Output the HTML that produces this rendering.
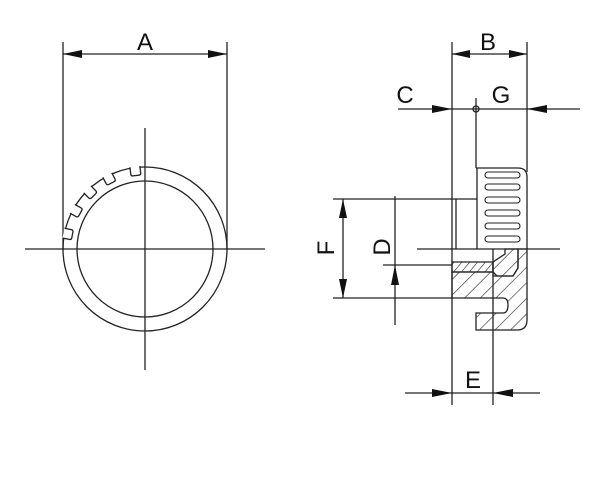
<!DOCTYPE html>
<html><head><meta charset="utf-8"><style>
html,body{margin:0;padding:0;background:#fff;}
svg{display:block;}
text{font-family:"Liberation Sans",sans-serif;font-size:24px;fill:#111;}
</style></head><body>
<svg width="600" height="500" viewBox="0 0 600 500" xmlns="http://www.w3.org/2000/svg">
<defs>
<pattern id="h" patternUnits="userSpaceOnUse" width="11" height="11" patternTransform="rotate(45)">
<line x1="0" y1="0" x2="0" y2="11" stroke="#222" stroke-width="1.2"/>
</pattern>
<pattern id="h2" patternUnits="userSpaceOnUse" width="6" height="6" patternTransform="rotate(40)">
<line x1="0" y1="0" x2="0" y2="6" stroke="#222" stroke-width="1.2"/>
</pattern>
</defs>
<g stroke="#222" stroke-width="1.3" fill="none">
<line x1="63" y1="42" x2="63" y2="250"/>
<line x1="227" y1="42" x2="227" y2="250"/>
<line x1="63" y1="54" x2="227" y2="54"/>
<line x1="25" y1="249" x2="265" y2="249"/>
<line x1="145" y1="128" x2="145" y2="370"/>
<circle cx="145" cy="249" r="82"/>
<circle cx="145" cy="249" r="68"/>
<line x1="452" y1="42" x2="452" y2="405"/>
<line x1="527" y1="42" x2="527" y2="172"/>
<line x1="452" y1="54" x2="527" y2="54"/>
<line x1="398" y1="109" x2="580" y2="109"/>
<circle cx="476" cy="109" r="3"/>
<line x1="476" y1="98" x2="476" y2="168"/>
<path d="M476 168 H518 Q527 168 527 177 V249"/>
<line x1="477" y1="168" x2="477" y2="249"/>
<line x1="417" y1="249" x2="560" y2="249"/>
<line x1="333" y1="199" x2="477" y2="199"/>
<line x1="333" y1="298" x2="452" y2="298"/>
<line x1="343" y1="199" x2="343" y2="298"/>
<line x1="395" y1="196" x2="395" y2="325"/>
<line x1="383" y1="265" x2="452" y2="265"/>
<line x1="456" y1="199" x2="456" y2="249"/>
<line x1="493" y1="249" x2="493" y2="405"/>
<line x1="405" y1="393" x2="540" y2="393"/>
<g stroke-width="1.1">
<rect x="485" y="172" width="35" height="6" rx="3"/>
<rect x="485" y="184" width="35" height="6" rx="3"/>
<rect x="485" y="197" width="35" height="6" rx="3"/>
<rect x="485" y="210" width="35" height="6" rx="3"/>
<rect x="485" y="223" width="35" height="6" rx="3"/>
<rect x="485" y="236" width="35" height="6" rx="3"/>
</g>
<path d="M452 272 H493 V276 H513 L518 268 V249 H527 V320 Q527 330 517 330 H476 V313 H503 Q508 313 508 305 Q508 298 503 298 H476 V298 H452 Z" fill="url(#h)"/>
<path d="M452 262 H493 V272 H452 Z" fill="url(#h2)"/>
<path d="M497 276 L493 272 V262 L505 254 V249 H518 V268 L513 276 Z" fill="url(#h)"/>
</g>
<g stroke="#222" stroke-width="1.3" fill="#fff">
<g transform="rotate(-7 145 249)"><rect x="140" y="166" width="10" height="8" stroke="none"/><path d="M140 166 v7 q0 2 2 2 h6 q2 0 2 -2 v-7"/></g>
<g transform="rotate(-27 145 249)"><rect x="140" y="166" width="10" height="8" stroke="none"/><path d="M140 166 v7 q0 2 2 2 h6 q2 0 2 -2 v-7"/></g>
<g transform="rotate(-44 145 249)"><rect x="140" y="166" width="10" height="8" stroke="none"/><path d="M140 166 v7 q0 2 2 2 h6 q2 0 2 -2 v-7"/></g>
<g transform="rotate(-61 145 249)"><rect x="140" y="166" width="10" height="8" stroke="none"/><path d="M140 166 v7 q0 2 2 2 h6 q2 0 2 -2 v-7"/></g>
<g transform="rotate(-79 145 249)"><rect x="140" y="166" width="10" height="8" stroke="none"/><path d="M140 166 v7 q0 2 2 2 h6 q2 0 2 -2 v-7"/></g>
</g>
<g fill="#111">
<polygon points="63,54 82,50 82,58"/><polygon points="227,54 208,50 208,58"/>
<polygon points="452,54 470,50 470,58"/><polygon points="527,54 509,50 509,58"/>
<polygon points="452,109 432,105 432,113"/><polygon points="527,109 547,105 547,113"/>
<polygon points="343,199 339,218 347,218"/><polygon points="343,298 339,279 347,279"/>
<polygon points="395,265 391,285 399,285"/>
<polygon points="452,393 432,389 432,397"/><polygon points="493,393 513,389 513,397"/>
</g>
<text x="145" y="50" text-anchor="middle">A</text>
<text x="488" y="50" text-anchor="middle">B</text>
<text x="405" y="103" text-anchor="middle">C</text>
<text x="501" y="103" text-anchor="middle">G</text>
<text x="473" y="388" text-anchor="middle">E</text>
<text transform="translate(334,248) rotate(-90)" text-anchor="middle">F</text>
<text transform="translate(390,247) rotate(-90)" text-anchor="middle">D</text>
</svg>
</body></html>
